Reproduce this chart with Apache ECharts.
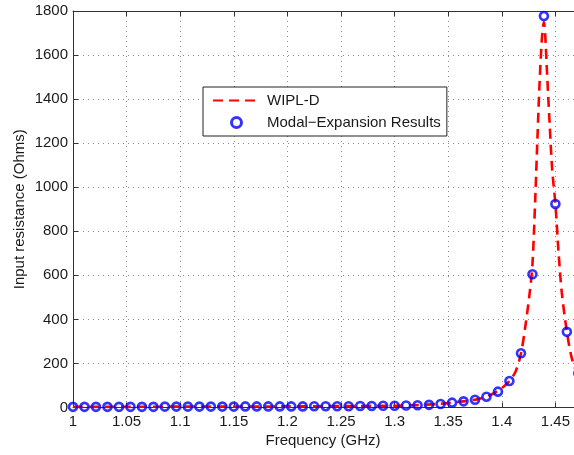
<!DOCTYPE html>
<html>
<head>
<meta charset="utf-8">
<script src="https://cdn.jsdelivr.net/npm/echarts@6/dist/echarts.min.js"></script>
<style>
  html, body { margin: 0; padding: 0; background: #fff; overflow: hidden; }
  #chart { width: 574px; height: 455px; }
</style>
</head>
<body>
<div id="chart"></div>
<script>
// Modal-expansion samples (GHz, Ohms)
const modalFreq = [
  1.0000, 1.0107, 1.0214, 1.0321, 1.0429, 1.0536, 1.0643, 1.0750, 1.0857, 1.0964,
  1.1071, 1.1179, 1.1286, 1.1393, 1.1500, 1.1607, 1.1714, 1.1821, 1.1929, 1.2036,
  1.2143, 1.2250, 1.2357, 1.2464, 1.2571, 1.2679, 1.2786, 1.2893, 1.3000, 1.3107,
  1.3214, 1.3321, 1.3429, 1.3536, 1.3643, 1.3750, 1.3857, 1.3964, 1.4071, 1.4179,
  1.4286, 1.4393, 1.4500, 1.4607, 1.4714
];
const modalR = [
  3, 3, 3, 3, 3, 3, 3, 3, 4, 4,
  4, 4, 4, 4, 4, 5, 5, 5, 5, 5,
  5, 6, 6, 6, 6, 7, 7, 8, 8, 9,
  10, 12, 16, 22, 28, 35, 49, 72, 120, 246,
  605, 1777, 924, 344, 155
];

// WIPL-D reference curve (GHz, Ohms)
const wiplFreq = [
  1.00, 1.05, 1.10, 1.15, 1.20, 1.25, 1.28, 1.30, 1.32, 1.34,
  1.35, 1.36, 1.37, 1.38, 1.39, 1.40, 1.4071, 1.4130, 1.4179, 1.4220,
  1.4260, 1.4286, 1.4313, 1.4333, 1.4353, 1.4375, 1.4393, 1.4405, 1.4420, 1.4445,
  1.4470, 1.4500, 1.4530, 1.4560, 1.4607, 1.4650, 1.4700, 1.4750
];
const wiplR = [
  3, 3, 4, 4.5, 5, 6.5, 7.5, 8, 10.5, 16,
  20, 26, 31, 41, 58, 88, 120, 165, 246, 370,
  520, 650, 960, 1230, 1480, 1680, 1750, 1690, 1540, 1300,
  1080, 924, 700, 520, 344, 230, 155, 105
];

// Axis ticks
const xTicks = { min: 1, max: 1.5, step: 0.05 };
const yTicks = { min: 0, max: 1800, step: 200 };

const seriesNames = ['WIPL-D', 'Modal\u2212Expansion Results'];

const font = 'Liberation Sans, Arial, Helvetica, sans-serif';
const textColor = '#1a1a1a';
const axisColor = '#333';
const gridDots = { color: '#8a8a8a', width: 1, type: [1, 4] };

const pair = (xs, ys) => xs.map((x, i) => [x, ys[i]]);

const chart = echarts.init(document.getElementById('chart'), null, { renderer: 'canvas' });

const baseX = {
  type: 'value',
  min: xTicks.min,
  max: xTicks.max,
  interval: xTicks.step,
  axisLine: { show: true, onZero: false, lineStyle: { color: axisColor, width: 1 } },
  axisTick: { show: true, inside: true, length: 5, lineStyle: { color: axisColor } }
};

chart.setOption({
  animation: false,
  backgroundColor: '#fff',
  title: {
    text: 'Frequency (GHz)',
    left: 318,
    top: 428,
    textAlign: 'center',
    textStyle: { fontFamily: font, fontSize: 15, fontWeight: 'normal', color: textColor }
  },
  // the plot box runs on past the right edge of the page
  grid: {
    left: 73, top: 11, width: 536, height: 396.5,
    containLabel: false, outerBoundsMode: 'none'
  },
  legend: {
    orient: 'vertical',
    left: 203,
    top: 87,
    padding: [6, 6, 6, 9],
    itemWidth: 47,
    itemHeight: 10,
    itemGap: 7,
    backgroundColor: '#fff',
    borderColor: '#222',
    borderWidth: 1,
    borderRadius: 0,
    textStyle: { fontFamily: font, fontSize: 15, color: textColor, padding: [0, 0, 0, 2] },
    data: [
      { name: seriesNames[0], itemStyle: { opacity: 0 } },
      { name: seriesNames[1], itemStyle: { borderWidth: 3 } }
    ]
  },
  xAxis: [
    Object.assign({}, baseX, {
      position: 'bottom',
      axisLabel: {
        show: true, margin: 7, fontFamily: font, fontSize: 15, color: textColor,
        formatter: v => String(+v.toFixed(2))
      },
      splitLine: { show: true, lineStyle: gridDots }
    }),
    Object.assign({}, baseX, {
      position: 'top',
      axisLabel: { show: false },
      splitLine: { show: false }
    })
  ],
  yAxis: [
    {
      type: 'value',
      min: yTicks.min,
      max: yTicks.max,
      interval: yTicks.step,
      name: 'Input resistance (Ohms)',
      nameLocation: 'middle',
      nameGap: 46,
      nameMoveOverlap: false,
      nameTextStyle: { fontFamily: font, fontSize: 15, color: textColor },
      axisLine: { show: true, lineStyle: { color: axisColor, width: 1 } },
      axisTick: { show: true, inside: true, length: 5, lineStyle: { color: axisColor } },
      axisLabel: {
        margin: 5, fontFamily: font, fontSize: 15, color: textColor,
        formatter: v => String(v)
      },
      splitLine: { show: true, lineStyle: gridDots }
    }
  ],
  series: [
    {
      name: seriesNames[0],
      type: 'line',
      xAxisIndex: 0,
      data: pair(wiplFreq, wiplR),
      smooth: 0.3,
      showSymbol: false,
      symbol: 'none',
      lineStyle: { color: '#ff0000', width: 2.6, type: [10, 6] },
      itemStyle: { color: '#ff0000' },
      z: 2
    },
    {
      name: seriesNames[1],
      type: 'scatter',
      xAxisIndex: 0,
      data: pair(modalFreq, modalR),
      symbol: 'circle',
      symbolSize: 8,
      itemStyle: { color: 'rgba(255,255,255,0)', borderColor: '#0000ff', borderWidth: 2.6 },
      z: 3
    }
  ]
});
</script>
</body>
</html>
